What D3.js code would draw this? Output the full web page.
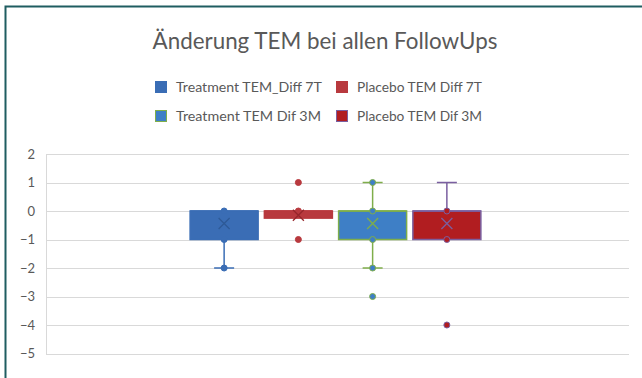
<!DOCTYPE html>
<html><head><meta charset="utf-8">
<script src="https://cdn.jsdelivr.net/npm/d3@7"></script>
<style>body{margin:0;background:#fff}svg{display:block}</style>
</head><body>
<svg id="c" width="642" height="378"></svg>
<script>
const title = "Änderung TEM bei allen FollowUps";
const seriesNames = ["Treatment TEM_Diff 7T", "Placebo TEM Diff 7T", "Treatment TEM Dif 3M", "Placebo TEM Dif 3M"];
const legendOrder = [0, 1, 2, 3];
const q1 = [-1, -0.25, -1, -1];
const q3 = [0, 0, 0, 0];
const medians = [0, 0, 0, 0];
const whiskerLow = [-2, 0, -2, -1];
const whiskerHigh = [0, 0, 1, 1];
const means = [-0.44, -0.15, -0.44, -0.44];
const points = [[0, -1, -2], [1, 0, -1], [1, 0, -1, -2, -3], [0, -1, -4]];
const yTicks = [2, 1, 0, -1, -2, -3, -4, -5];
const fills = ["#3a6db5", "#b8393e", "#3e7fc6", "#b11d20"];
const strokes = ["#3a6db5", "#b8393e", "#7fae4a", "#7a5fa0"];

const svg = d3.select("#c");
const font = "Lato, 'Open Sans', sans-serif";
const gray = "#595959";

// frame
svg.append("path").attr("d", "M5.5,378 L5.5,6.5 L642,6.5")
  .attr("fill", "none").attr("stroke", "#1f5d61").attr("stroke-width", 2);

const L = 46, R = 629, T = 154, B = 353.5;
const y = d3.scaleLinear().domain([-5, 2]).range([B, T]);
const x0 = d3.scaleBand().domain(["all"]).range([L, R]).paddingInner(0).paddingOuter(0.4815).align(0.493);
const x1 = d3.scaleBand().domain(d3.range(seriesNames.length)).range([x0("all"), x0("all") + x0.bandwidth()])
  .paddingInner(0.084).paddingOuter(0.042);

function fit(sel, w) {
  const n = sel.node();
  const fs = parseFloat(sel.attr("font-size"));
  const cw = n.getComputedTextLength();
  sel.attr("font-size", (fs * w / cw).toFixed(2));
}

// title
const t = svg.append("text").attr("x", 325).attr("y", 49).attr("text-anchor", "middle")
  .attr("font-family", font).attr("font-size", 20).attr("fill", gray).text(title);
fit(t, 345);

// legend
const legPos = [[155, 81], [336, 81], [155, 110], [336, 110]];
const legTextW = [146, 125, 145, 125];
legendOrder.forEach((i, k) => {
  const [lx, ly] = legPos[k];
  svg.append("rect").attr("x", lx + 0.5).attr("y", ly + 0.5).attr("width", 11).attr("height", 11)
    .attr("fill", fills[i]).attr("stroke", strokes[i]).attr("stroke-width", 1);
  const tx = svg.append("text").attr("x", lx + 21).attr("y", ly + 10.5)
    .attr("font-family", font).attr("font-size", 13).attr("fill", gray).text(seriesNames[i]);
  fit(tx, legTextW[k]);
});

// grid
const g = svg.append("g");
g.selectAll("line.grid").data(yTicks).join("line")
  .attr("x1", L).attr("x2", R).attr("y1", d => Math.round(y(d)) + 0.5).attr("y2", d => Math.round(y(d)) + 0.5)
  .attr("stroke", "#d9d9d9").attr("stroke-width", 1);
g.append("line").attr("x1", L + 0.5).attr("x2", L + 0.5).attr("y1", Math.round(y(2)) + 0.5).attr("y2", Math.round(y(-5)) + 0.5)
  .attr("stroke", "#d9d9d9");

// y axis
const ax = svg.append("g").attr("transform", `translate(${L},0)`)
  .call(d3.axisLeft(y).tickValues(yTicks).tickSize(0).tickPadding(11).tickFormat(d3.format("d")));
ax.select(".domain").remove();
ax.selectAll("text").attr("font-family", font).attr("font-size", 13).attr("fill", gray);

// boxes
seriesNames.forEach((s, i) => {
  const bx = x1(i), bw = x1.bandwidth(), cx = bx + bw / 2;
  const gg = svg.append("g");
  if (whiskerHigh[i] > q3[i]) {
    gg.append("line").attr("x1", cx).attr("x2", cx).attr("y1", y(whiskerHigh[i])).attr("y2", y(q3[i]))
      .attr("stroke", strokes[i]).attr("stroke-width", 1.5);
    gg.append("line").attr("x1", cx - 10).attr("x2", cx + 10).attr("y1", y(whiskerHigh[i])).attr("y2", y(whiskerHigh[i]))
      .attr("stroke", strokes[i]).attr("stroke-width", 1.5);
  }
  if (whiskerLow[i] < q1[i]) {
    gg.append("line").attr("x1", cx).attr("x2", cx).attr("y1", y(q1[i])).attr("y2", y(whiskerLow[i]))
      .attr("stroke", strokes[i]).attr("stroke-width", 1.5);
    gg.append("line").attr("x1", cx - 10).attr("x2", cx + 10).attr("y1", y(whiskerLow[i])).attr("y2", y(whiskerLow[i]))
      .attr("stroke", strokes[i]).attr("stroke-width", 1.5);
  }
  gg.append("rect").attr("x", bx).attr("width", bw).attr("y", y(q3[i])).attr("height", y(q1[i]) - y(q3[i]))
    .attr("fill", fills[i]).attr("stroke", strokes[i]).attr("stroke-width", 1.5);
  gg.append("line").attr("x1", bx).attr("x2", bx + bw).attr("y1", y(medians[i])).attr("y2", y(medians[i]))
    .attr("stroke", strokes[i]).attr("stroke-width", 1.5);
  gg.selectAll("circle").data(points[i]).join("circle")
    .attr("cx", cx).attr("cy", d => y(d)).attr("r", 3)
    .attr("fill", fills[i]).attr("stroke", strokes[i]).attr("stroke-width", 1);
  const my = y(means[i]), m = 5.5;
  const xc = i === 0 ? "#2e5a97" : i === 1 ? "#96262b" : strokes[i];
  gg.append("path").attr("d", `M${cx - m},${my - m}L${cx + m},${my + m}M${cx - m},${my + m}L${cx + m},${my - m}`)
    .attr("stroke", xc).attr("stroke-width", 1.3).attr("fill", "none");
});
</script>
</body></html>
